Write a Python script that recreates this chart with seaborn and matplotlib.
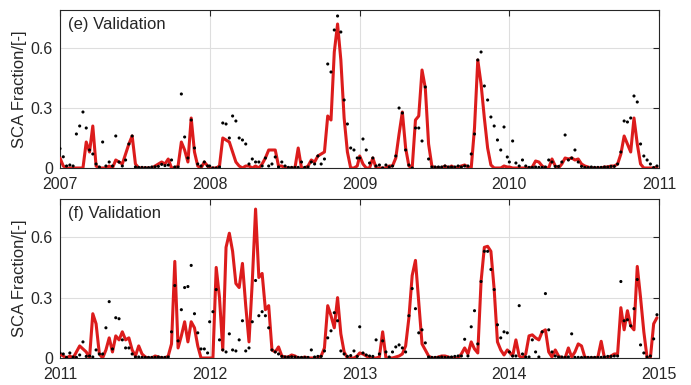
import numpy as np
import pandas as pd
import seaborn as sns
import matplotlib
matplotlib.use('Agg')
import matplotlib.pyplot as plt
import matplotlib.dates as mdates
from matplotlib import font_manager

# 8-day snow cover fraction, 46 values per year
# red line = simulated, black dots = observed

sim_2007 = [0.05, 0.01, 0.0, 0.0, 0.0, 0.0, 0.0, 0.0, 0.13, 0.08,
            0.21, 0.01, 0.0, 0.0, 0.0, 0.01, 0.0, 0.04, 0.03, 0.02,
            0.07, 0.12, 0.16, 0.02, 0.0, 0.0, 0.0, 0.0, 0.0, 0.01,
            0.02, 0.03, 0.02, 0.045, 0.0, 0.0, 0.01, 0.13, 0.09, 0.03,
            0.25, 0.08, 0.01, 0.0, 0.03, 0.01]
obs_2007 = [0.097, 0.056, 0.01, 0.015, 0.01, 0.17, 0.21, 0.28, 0.20, 0.09,
            0.07, 0.02, 0.005, 0.13, 0.01, 0.03, 0.01, 0.16, 0.03, 0.01,
            0.04, 0.12, 0.16, 0.005, 0.003, 0.003, 0.002, 0.002, 0.005, 0.006,
            0.008, 0.018, 0.012, 0.015, 0.04, 0.005, 0.005, 0.37, 0.155, 0.05,
            0.24, 0.10, 0.02, 0.01, 0.03, 0.01]

sim_2008 = [0.0, 0.0, 0.0, 0.01, 0.15, 0.14, 0.13, 0.08, 0.03, 0.01,
            0.0, 0.01, 0.01, 0.0, 0.01, 0.0, 0.02, 0.05, 0.09, 0.09,
            0.09, 0.01, 0.01, 0.0, 0.0, 0.0, 0.0, 0.1, 0.0, 0.0,
            0.01, 0.04, 0.03, 0.06, 0.07, 0.08, 0.26, 0.24, 0.58, 0.72,
            0.54, 0.25, 0.08, 0.0, 0.0, 0.01]
obs_2008 = [0.01, 0.0, 0.0, 0.005, 0.225, 0.22, 0.15, 0.26, 0.235, 0.15,
            0.14, 0.12, 0.02, 0.045, 0.03, 0.03, 0.01, 0.05, 0.01, 0.02,
            0.055, 0.005, 0.03, 0.01, 0.003, 0.003, 0.003, 0.003, 0.03, 0.003,
            0.005, 0.03, 0.02, 0.06, 0.02, 0.045, 0.52, 0.48, 0.69, 0.76,
            0.68, 0.34, 0.22, 0.10, 0.09, 0.05]

sim_2009 = [0.06, 0.02, 0.0, 0.0, 0.05, 0.0, 0.0, 0.0, 0.0, 0.01,
            0.01, 0.05, 0.17, 0.28, 0.1, 0.01, 0.0, 0.24, 0.26, 0.49,
            0.40, 0.12, 0.01, 0.0, 0.0, 0.0, 0.01, 0.0, 0.01, 0.0,
            0.005, 0.01, 0.015, 0.005, 0.0, 0.2, 0.54, 0.42, 0.25, 0.1,
            0.015, 0.0, 0.0, 0.0, 0.01, 0.005]
obs_2009 = [0.05, 0.145, 0.09, 0.025, 0.05, 0.01, 0.015, 0.0, 0.015, 0.005,
            0.01, 0.06, 0.30, 0.275, 0.09, 0.015, 0.0, 0.2, 0.2, 0.135,
            0.405, 0.045, 0.005, 0.005, 0.005, 0.005, 0.01, 0.005, 0.005, 0.005,
            0.01, 0.005, 0.01, 0.01, 0.07, 0.17, 0.54, 0.58, 0.41, 0.34,
            0.255, 0.21, 0.14, 0.09, 0.205, 0.055]

sim_2010 = [0.005, 0.0, 0.0, 0.0, 0.0, 0.0, 0.0, 0.005, 0.035, 0.03,
            0.01, 0.0, 0.0, 0.045, 0.01, 0.0, 0.02, 0.05, 0.045, 0.05,
            0.04, 0.045, 0.02, 0.01, 0.005, 0.0, 0.0, 0.0, 0.0, 0.005,
            0.005, 0.01, 0.01, 0.02, 0.07, 0.16, 0.12, 0.08, 0.25, 0.12,
            0.02, 0.0, 0.0, 0.0, 0.0, 0.005]
obs_2010 = [0.03, 0.135, 0.025, 0.01, 0.04, 0.01, 0.003, 0.003, 0.005, 0.003,
            0.003, 0.005, 0.04, 0.03, 0.008, 0.008, 0.03, 0.165, 0.04, 0.05,
            0.09, 0.03, 0.008, 0.003, 0.002, 0.005, 0.003, 0.003, 0.003, 0.005,
            0.005, 0.008, 0.008, 0.02, 0.08, 0.235, 0.23, 0.25, 0.36, 0.33,
            0.12, 0.06, 0.04, 0.02, 0.002, 0.01]

sim_2011 = [0.02, 0.01, 0.0, 0.01, 0.0, 0.03, 0.06, 0.045, 0.03, 0.0,
            0.22, 0.17, 0.02, 0.0, 0.04, 0.1, 0.03, 0.11, 0.09, 0.13,
            0.09, 0.1, 0.04, 0.01, 0.06, 0.02, 0.005, 0.0, 0.0, 0.01,
            0.005, 0.0, 0.0, 0.01, 0.07, 0.48, 0.05, 0.11, 0.18, 0.08,
            0.18, 0.15, 0.06, 0.0, 0.0, 0.0]
obs_2011 = [0.025, 0.02, 0.003, 0.025, 0.005, 0.003, 0.015, 0.08, 0.008, 0.01,
            0.005, 0.04, 0.02, 0.02, 0.15, 0.28, 0.045, 0.2, 0.195, 0.09,
            0.05, 0.05, 0.02, 0.005, 0.005, 0.003, 0.003, 0.003, 0.003, 0.003,
            0.005, 0.003, 0.003, 0.005, 0.13, 0.36, 0.085, 0.24, 0.35, 0.355,
            0.46, 0.22, 0.125, 0.045, 0.045, 0.025]

sim_2012 = [0.0, 0.0, 0.45, 0.3, 0.04, 0.55, 0.62, 0.53, 0.37, 0.35,
            0.47, 0.26, 0.08, 0.38, 0.74, 0.4, 0.42, 0.24, 0.26, 0.04,
            0.03, 0.055, 0.01, 0.005, 0.005, 0.015, 0.01, 0.0, 0.0, 0.005,
            0.0, 0.0, 0.0, 0.0, 0.01, 0.05, 0.26, 0.21, 0.15, 0.30,
            0.12, 0.03, 0.0, 0.0, 0.0, 0.01]
obs_2012 = [0.18, 0.23, 0.34, 0.09, 0.04, 0.03, 0.12, 0.04, 0.035, 0.09,
            0.185, 0.035, 0.05, 0.18, 0.385, 0.21, 0.23, 0.21, 0.15, 0.04,
            0.03, 0.02, 0.008, 0.005, 0.005, 0.006, 0.005, 0.003, 0.003, 0.003,
            0.003, 0.04, 0.005, 0.008, 0.008, 0.035, 0.1, 0.135, 0.225, 0.185,
            0.035, 0.02, 0.008, 0.012, 0.035, 0.008]

sim_2013 = [0.025, 0.02, 0.01, 0.0, 0.0, 0.0, 0.005, 0.13, 0.0, 0.0,
            0.0, 0.005, 0.01, 0.02, 0.06, 0.2, 0.41, 0.485, 0.28, 0.07,
            0.04, 0.01, 0.0, 0.0, 0.005, 0.01, 0.01, 0.005, 0.0, 0.0,
            0.0, 0.02, 0.05, 0.02, 0.08, 0.045, 0.025, 0.38, 0.55, 0.555,
            0.53, 0.34, 0.08, 0.04, 0.015, 0.04]
obs_2013 = [0.155, 0.025, 0.015, 0.01, 0.008, 0.09, 0.02, 0.085, 0.03, 0.005,
            0.03, 0.055, 0.065, 0.05, 0.03, 0.21, 0.345, 0.245, 0.125, 0.14,
            0.075, 0.005, 0.003, 0.003, 0.003, 0.005, 0.003, 0.003, 0.005, 0.008,
            0.01, 0.01, 0.093, 0.01, 0.155, 0.235, 0.07, 0.38, 0.53, 0.53,
            0.44, 0.34, 0.165, 0.1, 0.13, 0.125]

sim_2014 = [0.03, 0.01, 0.09, 0.01, 0.0, 0.02, 0.11, 0.115, 0.1, 0.09,
            0.13, 0.14, 0.03, 0.005, 0.04, 0.01, 0.0, 0.0, 0.05, 0.005,
            0.03, 0.07, 0.06, 0.005, 0.0, 0.0, 0.0, 0.005, 0.083, 0.0,
            0.0, 0.01, 0.02, 0.02, 0.25, 0.14, 0.235, 0.16, 0.14, 0.455,
            0.3, 0.13, 0.0, 0.0, 0.17, 0.2]
obs_2014 = [0.03, 0.01, 0.01, 0.26, 0.02, 0.005, 0.005, 0.09, 0.03, 0.005,
            0.13, 0.32, 0.14, 0.03, 0.01, 0.005, 0.005, 0.003, 0.005, 0.12,
            0.003, 0.003, 0.003, 0.003, 0.003, 0.003, 0.003, 0.003, 0.003, 0.005,
            0.008, 0.008, 0.01, 0.01, 0.38, 0.185, 0.19, 0.16, 0.245, 0.39,
            0.065, 0.025, 0.005, 0.01, 0.095, 0.215]

panels = [
    ('(e) Validation', [2007, 2008, 2009, 2010],
     [sim_2007, sim_2008, sim_2009, sim_2010], [obs_2007, obs_2008, obs_2009, obs_2010]),
    ('(f) Validation', [2011, 2012, 2013, 2014],
     [sim_2011, sim_2012, sim_2013, sim_2014], [obs_2011, obs_2012, obs_2013, obs_2014]),
]

sns.set_style('white')
names = {f.name for f in font_manager.fontManager.ttflist}
font = 'Liberation Sans Narrow' if 'Liberation Sans Narrow' in names else 'Liberation Sans'
plt.rcParams['font.family'] = [font, 'DejaVu Sans']

fig = plt.figure(figsize=(6.91, 3.85), dpi=100)
ax_top = fig.add_axes([60/691, 1 - 168/385, 599/691, 158/385])
ax_bot = fig.add_axes([60/691, 1 - 358/385, 599/691, 159/385])

for ax, (label, years, sims, obss) in zip([ax_top, ax_bot], panels):
    dates = np.concatenate([pd.date_range(f'{y}-01-01', periods=46, freq='8D') for y in years])
    df = pd.DataFrame({'date': pd.to_datetime(dates),
                       'sim': np.concatenate(sims),
                       'obs': np.concatenate(obss)})
    sns.lineplot(data=df, x='date', y='sim', ax=ax, color='#dc1c1c', lw=2.2, zorder=3)
    sns.scatterplot(data=df, x='date', y='obs', ax=ax, color='black', s=5,
                    edgecolor='none', zorder=4)

    ax.set_xlim(pd.Timestamp(f'{years[0]}-01-01'), pd.Timestamp(f'{years[-1] + 1}-01-01'))
    ax.set_ylim(0, 0.79)
    ax.set_yticks([0, 0.3, 0.6])
    ax.set_yticklabels(['0', '0.3', '0.6'])
    ax.xaxis.set_major_locator(mdates.YearLocator())
    ax.xaxis.set_major_formatter(mdates.DateFormatter('%Y'))
    ax.grid(True, color='#dedede', lw=0.8)
    ax.set_axisbelow(True)
    ax.tick_params(direction='in', top=True, right=True, length=4, width=0.8,
                   labelsize=11.5, labelcolor='#262626', color='#262626')
    ax.tick_params(axis='x', pad=6.5)
    ax.tick_params(axis='y', pad=5)
    for s in ax.spines.values():
        s.set_color('#262626')
        s.set_linewidth(0.8)
    ax.set_xlabel('')
    ax.set_ylabel('SCA Fraction/[-]', fontsize=12, color='#262626', labelpad=3)
    ax.text(0.013, 0.91, label, transform=ax.transAxes, fontsize=12,
            va='center', ha='left', color='#262626')

fig.savefig('out.png', dpi=100)
